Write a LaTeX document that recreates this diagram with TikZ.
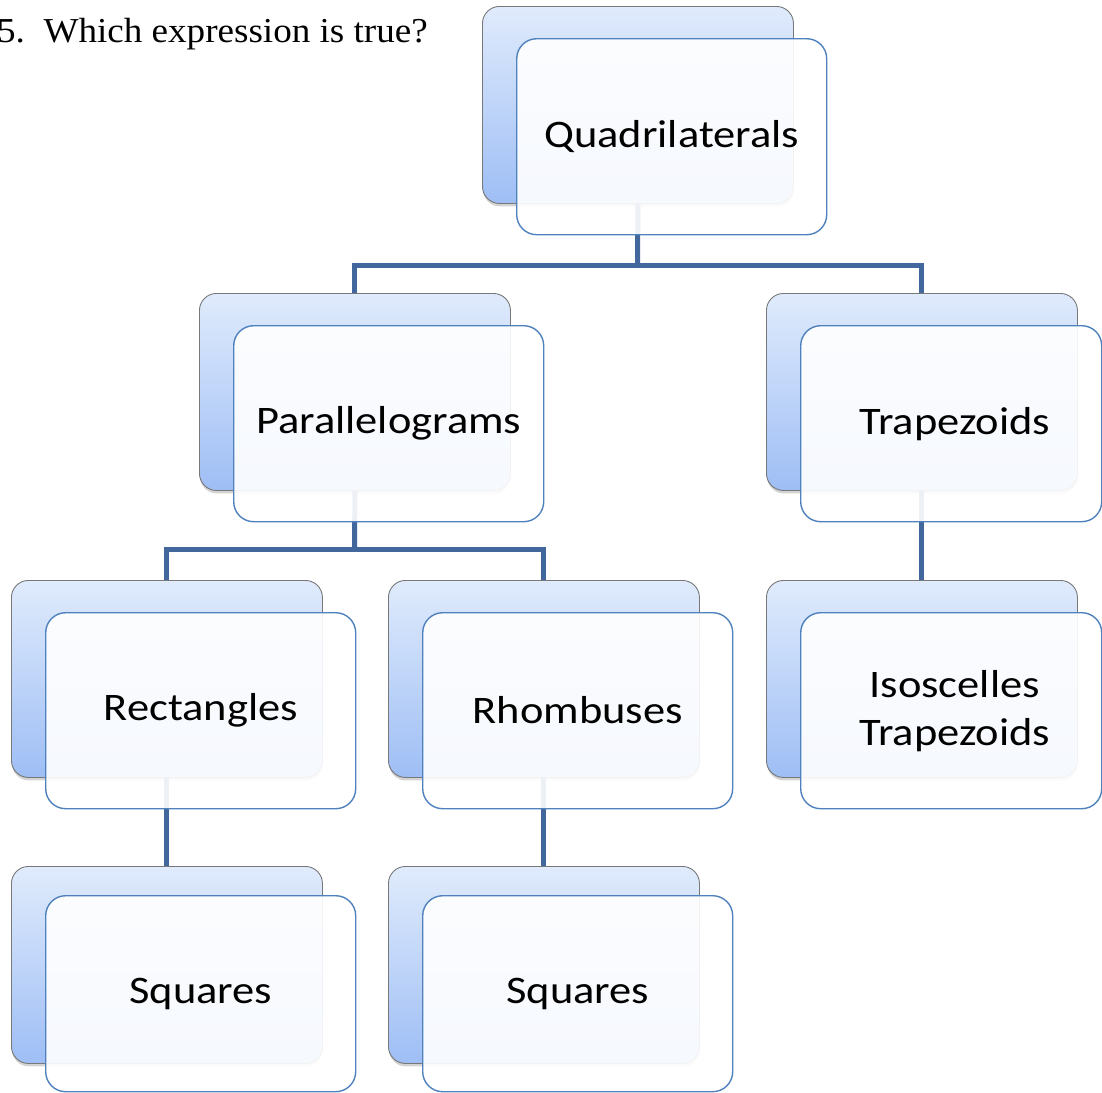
\documentclass[tikz,border=0pt]{standalone}
\usepackage{fontspec}
\setmainfont{Carlito}
\newfontfamily\titlefont{Liberation Serif}
\usetikzlibrary{shadows}
\definecolor{backtop}{RGB}{224,235,252}
\definecolor{backbot}{RGB}{158,190,245}
\definecolor{backline}{RGB}{120,120,120}
\definecolor{frontline}{RGB}{79,129,189}
\definecolor{connline}{RGB}{65,103,156}
\newcommand{\boxtxt}[1]{\scalebox{1.14}[1]{#1}}
\tikzset{
  backbox/.style={anchor=north west, inner sep=0pt, minimum width=311pt, minimum height=197pt,
    rounded corners=17pt, draw=backline, line width=0.9pt, top color=backtop, bottom color=backbot,
    drop shadow={opacity=0.35, shadow xshift=0.5pt, shadow yshift=-3pt}},
  frontbox/.style={anchor=north west, inner sep=0pt, minimum width=310pt, minimum height=196pt,
    rounded corners=20pt, draw=frontline, line width=1.4pt, fill=white, fill opacity=0.91,
    text opacity=1, font=\fontsize{39}{48}\selectfont, align=center},
  conn/.style={draw=connline, line width=5pt}
}
\begin{document}
\begin{tikzpicture}[x=1pt,y=-1pt]
\useasboundingbox (0,0) rectangle (1102,1092);
% title
\node[anchor=base east, inner sep=0pt, font=\titlefont\fontsize{35}{40}\selectfont] (title) at (428,42) {\scalebox{1.06}[1]{5.\ \ Which expression is true?}};
% back boxes
\node[backbox] (qb) at (482,6) {};
\node[backbox] (pb) at (199,293) {};
\node[backbox] (tb) at (766,293) {};
\node[backbox] (rb) at (11,580) {};
\node[backbox] (hb) at (388,580) {};
\node[backbox] (ib) at (766,580) {};
\node[backbox] (s1b) at (11,866) {};
\node[backbox] (s2b) at (388,866) {};
% connectors
\coordinate (j1) at (637.5,265);
\coordinate (j2) at (354.5,549);
\draw[conn] (qb.south) -- (j1);
\draw[conn] (pb.north) |- (j1) -| (tb.north);
\draw[conn] (pb.south) -- (j2);
\draw[conn] (rb.north) |- (j2) -| (hb.north);
\draw[conn] (tb.south) -- (ib.north);
\draw[conn] (rb.south) -- (s1b.north);
\draw[conn] (hb.south) -- (s2b.north);
% front boxes
\node[frontbox] (qf) at (516,38) {\raisebox{-6pt}{\boxtxt{Quadrilaterals}}};
\node[frontbox] (pf) at (233,325) {\boxtxt{Parallelograms}};
\node[frontbox, minimum width=301pt] (tf) at (800,325) {\boxtxt{\hspace{6pt}Trapezoids}};
\node[frontbox] (rf) at (45,612) {\boxtxt{Rectangles}};
\node[frontbox] (hf) at (422,612) {\raisebox{2pt}{\boxtxt{Rhombuses}}};
\node[frontbox, minimum width=301pt] (if) at (800,612) {\boxtxt{\hspace{6pt}Isoscelles}\\\boxtxt{\hspace{6pt}Trapezoids}};
\node[frontbox] (s1f) at (45,895) {\boxtxt{Squares}};
\node[frontbox] (s2f) at (422,895) {\boxtxt{Squares}};
\end{tikzpicture}
\end{document}
